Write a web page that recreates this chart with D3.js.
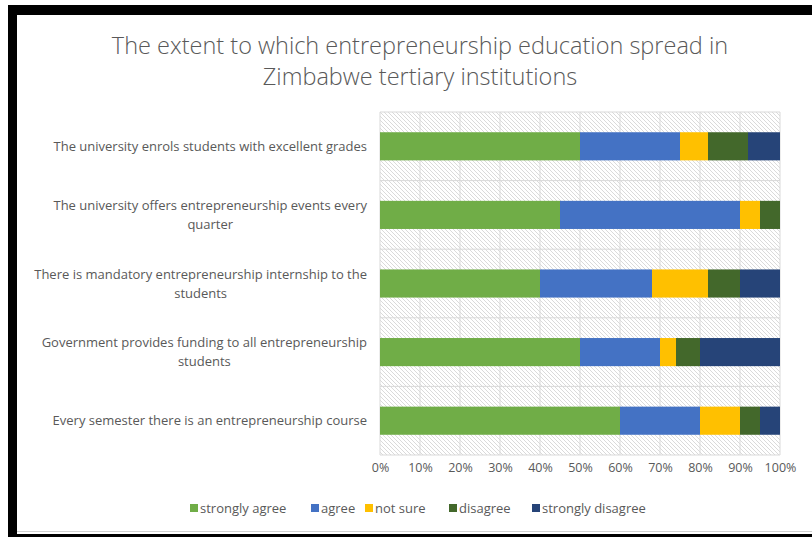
<!DOCTYPE html>
<html><head><meta charset="utf-8">
<script src="https://cdn.jsdelivr.net/npm/d3@7"></script>
<style>
html,body{margin:0;padding:0;background:#fff;}
svg{display:block;}
text{font-family:"Open Sans",Lato,sans-serif;fill:#595959;}
</style></head>
<body>
<svg id="chart" width="812" height="537"></svg>
<script>
const title = ["The extent to which entrepreneurship education spread in", "Zimbabwe tertiary institutions"];
const categories = [
  "The university enrols students with excellent grades",
  "The university offers entrepreneurship events every quarter",
  "There is mandatory entrepreneurship internship to the students",
  "Government provides funding to all entrepreneurship students",
  "Every semester there is an entrepreneurship course"
];
const seriesNames = ["strongly agree", "agree", "not sure", "disagree", "strongly disagree"];
const stronglyAgree    = [50, 45, 40, 50, 60];
const agree            = [25, 45, 28, 20, 20];
const notSure          = [7, 5, 14, 4, 10];
const disagree         = [10, 5, 8, 6, 5];
const stronglyDisagree = [8, 0, 10, 20, 5];
const tickValues = [0, 10, 20, 30, 40, 50, 60, 70, 80, 90, 100];
const colors = ["#70ad47", "#4472c4", "#ffc000", "#43682b", "#264478"];

const seriesValues = [stronglyAgree, agree, notSure, disagree, stronglyDisagree];
const rows = categories.map((c, i) => {
  const o = {cat: c};
  seriesNames.forEach((s, j) => o[s] = seriesValues[j][i]);
  return o;
});

const svg = d3.select("#chart");
const W = 812, H = 537;

// frame
svg.append("rect").attr("x", 0).attr("y", 0).attr("width", W).attr("height", H).attr("fill", "#fff");
svg.append("rect").attr("x", 8).attr("y", 5).attr("width", W - 8).attr("height", 10).attr("fill", "#000");
svg.append("rect").attr("x", 8).attr("y", 5).attr("width", 9).attr("height", H - 5).attr("fill", "#000");
svg.append("rect").attr("x", 8).attr("y", 534).attr("width", W - 8).attr("height", 3).attr("fill", "#000");
svg.append("line").attr("x1", 17).attr("x2", W).attr("y1", 531.5).attr("y2", 531.5).attr("stroke", "#d0d0d0");

const margin = {left: 380, right: 32, top: 112, bottom: 82};
const x = d3.scaleLinear().domain([0, 100]).range([margin.left, W - margin.right]);
const y = d3.scaleBand().domain(categories).range([margin.top, H - margin.bottom]).paddingInner(0.59).paddingOuter(0.295);

// hatch pattern
const defs = svg.append("defs");
const pat = defs.append("pattern").attr("id", "hatch").attr("patternUnits", "userSpaceOnUse")
  .attr("width", 4).attr("height", 4);
pat.append("rect").attr("width", 4).attr("height", 4).attr("fill", "#fff");
pat.append("path").attr("d", "M-1,-1 L5,5 M-1,3 L1,5 M3,-1 L5,1").attr("stroke", "#d6d6d6").attr("stroke-width", 0.9);

const plotTop = margin.top, plotBot = H - margin.bottom;
svg.append("rect").attr("x", x(0)).attr("y", plotTop).attr("width", x(100) - x(0)).attr("height", plotBot - plotTop)
  .attr("fill", "url(#hatch)");

// grid lines
const step = y.step();
const boundaries = [plotTop].concat(categories.map(c => y(c) - (step - y.bandwidth()) / 2 + step));
svg.append("g").selectAll("line.h").data(boundaries).join("line")
  .attr("x1", x(0)).attr("x2", x(100)).attr("y1", d => d).attr("y2", d => d)
  .attr("stroke", "#d9d9d9").attr("stroke-width", 1);
svg.append("g").selectAll("line.v").data(tickValues).join("line")
  .attr("x1", d => x(d)).attr("x2", d => x(d)).attr("y1", plotTop).attr("y2", plotBot)
  .attr("stroke", "#d9d9d9").attr("stroke-width", 1);

// bars
const stack = d3.stack().keys(seriesNames)(rows);
svg.append("g").selectAll("g").data(stack).join("g").attr("fill", (d, i) => colors[i])
  .selectAll("rect").data(d => d).join("rect")
  .attr("x", d => x(d[0])).attr("width", d => x(d[1]) - x(d[0]))
  .attr("y", d => y(d.data.cat)).attr("height", y.bandwidth());

// x axis
const xAxis = d3.axisBottom(x).tickValues(tickValues).tickFormat(d => d + "%").tickSize(0).tickPadding(8);
const gx = svg.append("g").attr("transform", `translate(0,${plotBot})`).call(xAxis);
gx.select(".domain").remove();
gx.selectAll("text").attr("font-size", 12.5).style("font-family", "'Open Sans',Lato,sans-serif").attr("fill", "#595959");

// y labels with wrapping
const labelFs = 13;
const labelRight = 367, maxW = 340, lineH = 19;
categories.forEach(c => {
  const g = svg.append("g");
  const words = c.split(" ");
  const tmp = g.append("text").attr("font-size", labelFs);
  let lines = [], cur = [];
  words.forEach(w => {
    cur.push(w);
    tmp.text(cur.join(" "));
    if (tmp.node().getComputedTextLength() > maxW && cur.length > 1) {
      cur.pop(); lines.push(cur.join(" ")); cur = [w];
    }
  });
  lines.push(cur.join(" "));
  let bw = 0;
  lines.forEach(l => { tmp.text(l); bw = Math.max(bw, tmp.node().getComputedTextLength()); });
  tmp.remove();
  const cx = labelRight - bw / 2;
  const cy = y(c) + y.bandwidth() / 2;
  lines.forEach((l, i) => {
    g.append("text").attr("x", cx).attr("y", cy + (i - (lines.length - 1) / 2) * lineH)
      .attr("dy", "0.35em").attr("text-anchor", "middle").attr("font-size", labelFs).text(l);
  });
});

// title
svg.append("g").selectAll("text").data(title).join("text")
  .attr("x", 420).attr("y", (d, i) => 46 + i * 31).attr("dy", "0.35em").attr("text-anchor", "middle")
  .attr("font-size", 23.5).attr("font-weight", 300).attr("fill", "#595959").text(d => d);

// legend
const legendX = [190, 311, 365, 449, 532];
const lg = svg.append("g").selectAll("g").data(seriesNames).join("g")
  .attr("transform", (d, i) => `translate(${legendX[i]},508)`);
lg.append("rect").attr("x", 0).attr("y", -4).attr("width", 8).attr("height", 8).attr("fill", (d, i) => colors[i]);
lg.append("text").attr("x", 10).attr("y", 0).attr("dy", "0.35em").attr("font-size", 13).text(d => d);
</script>
</body></html>
